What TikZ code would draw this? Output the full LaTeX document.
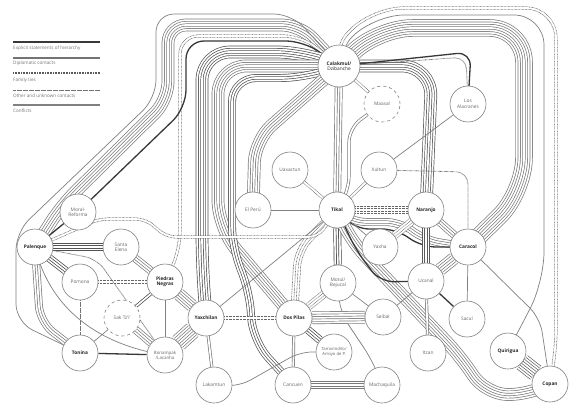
\documentclass[tikz,border=0pt]{standalone}
\usepackage{fontspec}
\setmainfont{Open Sans}
\usetikzlibrary{backgrounds}

\begin{document}
\begin{tikzpicture}[x=1pt, y=-1pt,
  site/.style={circle, draw=black!50, fill=white, line width=0.6pt, minimum size=36pt,
               inner sep=0pt, align=center, font=\fontsize{4.8}{5.4}\selectfont, text=black!60},
  capital/.style={site, font=\fontsize{4.8}{5.4}\selectfont\bfseries, text=black!85},
  lost/.style={dashed},
  key/.style={anchor=west, inner sep=0pt, font=\fontsize{4.6}{5}\selectfont, text=black!55},
  hier/.style={draw=black!78, line width=1.3pt},
  fam/.style={draw=black!65, line width=1.6pt, dash pattern=on 1pt off 0.6pt},
  other/.style={draw=black!55, line width=0.8pt, dash pattern=on 0.6pt off 0.6pt},
  confl/.style={draw=black!50, line width=0.7pt},
  dotty/.style={black!60, dash pattern=on 0.7pt off 0.7pt},
  tie2/.style={preaction={draw,#1,line width=3.1pt}, draw=white, line width=1.7pt},
  tie2/.default=black!52,
  tie4/.style={preaction={draw,#1,line width=7.9pt}, preaction={draw=white,line width=6.5pt},
               preaction={draw,#1,line width=3.1pt}, draw=white, line width=1.7pt},
  tie4/.default=black!52,
  tie6/.style={preaction={draw,#1,line width=12.7pt}, preaction={draw=white,line width=11.3pt},
               preaction={draw,#1,line width=7.9pt}, preaction={draw=white,line width=6.5pt},
               preaction={draw,#1,line width=3.1pt}, draw=white, line width=1.7pt},
  tie6/.default=black!52,
  tie8/.style={preaction={draw,#1,line width=17.5pt}, preaction={draw=white,line width=16.1pt},
               preaction={draw,#1,line width=12.7pt}, preaction={draw=white,line width=11.3pt},
               preaction={draw,#1,line width=7.9pt}, preaction={draw=white,line width=6.5pt},
               preaction={draw,#1,line width=3.1pt}, draw=white, line width=1.7pt},
  tie8/.default=black!52
]
  \useasboundingbox (0,0) rectangle (572,404);

  % legend
  \node[key] (k1) at (13,48)  {Explicit statements of hierarchy};
  \node[key] (k2) at (13,63)  {Diplomatic contacts};
  \node[key] (k3) at (13,80)  {Family ties};
  \node[key] (k4) at (13,96)  {Other and unknown contacts};
  \node[key] (k5) at (13,111) {Conflicts};
  \draw[hier, line width=1.8pt] ([yshift=6pt]k1.west) -- ++(87,0);
  \draw[draw=black!55, line width=1.4pt] ([yshift=5pt]k2.west) -- ++(87,0);
  \draw[fam] ([yshift=7pt]k3.west) -- ++(87,0);
  \draw[other] ([yshift=6pt]k4.west) -- ++(87,0);
  \draw[confl, line width=1.1pt] ([yshift=6pt]k5.west) -- ++(87,0);

  % sites
  \node[capital, minimum size=42pt] (calakmul) at (339,66) {Calakmul/\\\mdseries Dzibanche};
  \node[site, lost]  (maasal)      at (382,104) {Maasal};
  \node[site]        (alacranes)   at (468,104) {Los\\Alacranes};
  \node[site]        (uaxactun)    at (290,170) {Uaxactun};
  \node[site]        (xultun)      at (379,170) {Xultun};
  \node[site]        (elperu)      at (253,210) {El Perú};
  \node[capital]     (tikal)       at (337,210) {Tikal};
  \node[capital]     (naranjo)     at (426,210) {Naranjo};
  \node[site]        (yaxha)       at (380,247) {Yaxha};
  \node[capital]     (caracol)     at (468,247) {Caracol};
  \node[site]        (motul)       at (338,283) {Motul/\\Bejucal};
  \node[site]        (ucanal)      at (426,281) {Ucanal};
  \node[site]        (sacul)       at (467,319) {Sacul};
  \node[site]        (seibal)      at (383,317) {Seibal};
  \node[site]        (itzan)       at (428,353) {Itzan};
  \node[capital]     (quirigua)    at (508,351) {Quirigua};
  \node[capital]     (copan)       at (550,384) {Copan};
  \node[capital]     (dospilas)    at (294,318) {Dos Pilas};
  \node[site, font=\fontsize{4.2}{5}\selectfont] (tamarindito) at (334,352) {Tamarindito/\\Arroyo de P.};
  \node[site]        (cancuen)     at (293,385) {Cancuen};
  \node[site]        (machaquila)  at (382,385) {Machaquila};
  \node[site]        (lakamtun)    at (214,385) {Lakamtun};
  \node[capital]     (yaxchilan)   at (206,318) {Yaxchilan};
  \node[capital]     (piedras)     at (165,282) {Piedras\\Negras};
  \node[site]        (santaelena)  at (121,247) {Santa\\Elena};
  \node[site]        (moral)       at (78,212)  {Moral-\\Reforma};
  \node[capital]     (palenque)    at (35,247)  {Palenque};
  \node[site]        (pomona)      at (80,282)  {Pomona};
  \node[site, lost]  (saktzi)      at (122,318) {Sak Tz'i'};
  \node[capital]     (tonina)      at (80,353)  {Tonina};
  \node[site, font=\fontsize{4.4}{5}\selectfont] (bonampak) at (165,355) {Bonampak\\/Lacanha};

  \begin{scope}[on background layer]
    \fill[white] (0,0) rectangle (572,404);
    % Calakmul, western loops
    \draw[tie6, rounded corners=18pt] (calakmul.center) -- (300,25) -- (168,25) -- (168,100) -- (62,205) -- (palenque.center);
    \draw[confl, rounded corners=18pt] (calakmul.center) -- (292,14) -- (156,14) -- (156,98) -- (16,232) -- (16,322) -- (tonina.center);
    \draw[tie2=dotty, rounded corners=18pt] (calakmul.center) -- (302,36) -- (180,36) -- (180,250) -- (piedras.center);
    \draw[hier, rounded corners=18pt] (calakmul.center) -- (304,41) -- (186,41) -- (186,108) -- (moral.center);
    \draw[tie6=black!68, rounded corners=28pt] (calakmul.center) -- (305,52) -- (202,52) -- (202,262) -- (yaxchilan.center);
    \draw[tie6, rounded corners=28pt] (calakmul.center) -- (305,66) -- (218,66) -- (218,228) -- (dospilas.center);
    \draw[tie4=black!68, rounded corners=24pt] (calakmul.center) -- (305,78) -- (232,78) -- (232,250) -- (250,290) -- (252,340) -- (cancuen.center);
    \draw[tie6, rounded corners=22pt] (calakmul.center) -- (255,140) -- (elperu.center);
    % Calakmul, centre and east
    \draw[tie4] (calakmul) -- (tikal);
    \draw[tie2=dotty] (calakmul) -- (maasal);
    \draw[tie2, rounded corners=14pt] (maasal.center) -- (349,128) -- (349,190) -- (tikal.center);
    \draw[tie6=black!65, rounded corners=30pt] (calakmul.center) -- (432,66) -- (naranjo.center);
    \draw[hier, rounded corners=14pt] (calakmul.center) -- (471,52) -- (alacranes.center);
    \draw[other, rounded corners=12pt] (calakmul.center) -- (466,57) -- (alacranes.center);
    \draw[tie8, rounded corners=34pt] (calakmul.center) -- (378,28) -- (524,28) -- (524,192) -- (caracol.center);
    \draw[confl, rounded corners=30pt] (calakmul.center) -- (331,58) -- (374,15) -- (544,15) -- (544,282) -- (quirigua.center);
    \draw[tie2=dotty, rounded corners=30pt] (calakmul.center) -- (327,54) -- (373,8) -- (556,8) -- (556,360) -- (copan.center);
    % Tikal
    \draw[tie2=dotty] (tikal) -- (uaxactun);
    \draw[tie2=dotty] (tikal) -- (xultun);
    \draw[confl] (tikal) -- (elperu);
    \draw[tie4=dotty] (tikal) -- (naranjo);
    \draw[tie4, rounded corners=14pt] (tikal.center) -- (352,222) -- (400,222) -- (425,240) -- (caracol.center);
    \draw[hier, rounded corners=14pt] (tikal.center) -- (355,229) -- (396,229) -- (422,247) -- (caracol.center);
    \draw[tie4=black!75] (tikal) -- (motul);
    \draw[tie4=dotty, rounded corners=16pt] (tikal.center) -- (298,250) -- (dospilas.center);
    \draw[tie6, rounded corners=22pt] (tikal.center) -- (350,240) -- (462,358) -- (485,394) -- (530,395) -- (copan.center);
    \draw[hier, rounded corners=14pt] (tikal.center) -- (356,250) -- (380,282) -- (ucanal.center);
    \draw[confl] (tikal) -- (yaxha);
    \draw[confl] (tikal) -- (yaxchilan);
    \draw[tie2=dotty, rounded corners=10pt] (palenque.center) -- (68,233) -- (98,219) -- (146,219) -- (166,237) -- (318,237) -- (tikal.center);
    % Naranjo and Caracol
    \draw[tie4] (naranjo) -- (caracol);
    \draw[tie4=dotty] (naranjo) -- (yaxha);
    \draw[tie4=black!65] (naranjo) -- (ucanal);
    \draw[tie6] (caracol) -- (ucanal);
    \draw[other, rounded corners=12pt] (xultun.center) -- (468,172) -- (caracol.center);
    \draw[confl] (alacranes) -- (xultun);
    \draw[confl] (caracol) -- (sacul);
    \draw[confl, rounded corners=14pt] (caracol.center) -- (540,318) -- (copan.center);
    \draw[tie8=black!62] (quirigua) -- (copan);
    % Ucanal, Motul, Dos Pilas
    \draw[hier] (ucanal) -- (sacul);
    \draw[tie2] (ucanal) -- (itzan);
    \draw[confl] (ucanal) -- (seibal);
    \draw[tie4=dotty] (motul) -- (dospilas);
    \draw[confl] (motul) -- (seibal);
    \draw[confl, rounded corners=14pt] (motul.center) -- (340,312) -- (372,360) -- (machaquila.center);
    \draw[tie6] (dospilas) -- (seibal);
    \draw[tie4=black!75] (dospilas) -- (tamarindito);
    \draw[tie2] (dospilas) -- (cancuen);
    \draw[tie6] (cancuen) -- (machaquila);
    \draw[confl, rounded corners=12pt] (lakamtun.center) -- (240,386) -- (300,352) -- (tamarindito.center);
    % west
    \draw[tie2=dotty] (yaxchilan) -- (dospilas);
    \draw[tie2] (yaxchilan) -- (lakamtun);
    \draw[tie8] (yaxchilan) -- (bonampak);
    \draw[tie6] (piedras) -- (yaxchilan);
    \draw[tie4] (piedras) -- (santaelena);
    \draw[tie2=black!75] (piedras) -- (saktzi);
    \draw[tie2=dotty] (piedras) -- (pomona);
    \draw[confl] (piedras) -- (bonampak);
    \draw[tie4=black!68] (palenque) -- (santaelena);
    \draw[tie4=black!75] (palenque) -- (pomona);
    \draw[hier] (palenque) -- (moral);
    \draw[tie4, rounded corners=16pt] (palenque.center) -- (40,322) -- (tonina.center);
    \draw[other] (pomona) -- (tonina);
    \draw[tie4] (saktzi) -- (bonampak);
    \draw[confl] (saktzi) -- (tonina);
    \draw[hier] (tonina) -- (bonampak);
    \draw[other, rounded corners=12pt] (palenque.center) -- (97,259) -- (bonampak.center);
    \draw[confl] (palenque.center) .. controls (50,310) and (100,345) .. (bonampak.center);
  \end{scope}
\end{tikzpicture}
\end{document}
